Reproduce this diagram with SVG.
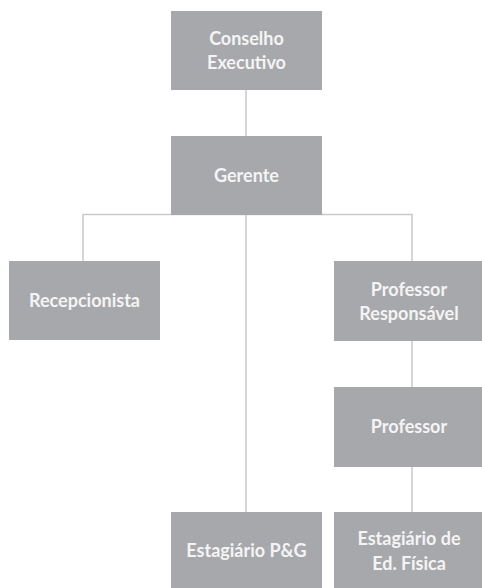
<svg xmlns="http://www.w3.org/2000/svg" width="482" height="588" viewBox="0 0 482 588">
<style>
.box{fill:#a7a8ab}
.lbl{fill:#f4f4f4;font-family:Lato,"Open Sans","Liberation Sans",sans-serif;font-weight:bold;font-size:18px;text-anchor:middle}
.ln{stroke:#c9c9c9;stroke-width:1.5;fill:none}
</style>
<rect width="482" height="588" fill="#ffffff"/>
<g id="connectors">
<path class="ln" d="M246,90 V136"/>
<path class="ln" d="M83,261 V214.5 H412 V261"/>
<path class="ln" d="M246,215 V512"/>
<path class="ln" d="M412,341 V387"/>
<path class="ln" d="M412,467 V512"/>
</g>
<g id="conselho">
<rect class="box" x="171" y="11" width="151" height="79"/>
<text class="lbl" x="246.5" y="45">Conselho</text>
<text class="lbl" x="246.5" y="69">Executivo</text>
</g>
<g id="gerente">
<rect class="box" x="171" y="136" width="151" height="79"/>
<text class="lbl" x="246.5" y="182">Gerente</text>
</g>
<g id="recepcionista">
<rect class="box" x="9" y="261" width="151" height="79"/>
<text class="lbl" x="84.5" y="307">Recepcionista</text>
</g>
<g id="professor-responsavel">
<rect class="box" x="334" y="261" width="148" height="80"/>
<text class="lbl" x="409" y="296">Professor</text>
<text class="lbl" x="409" y="320">Responsável</text>
</g>
<g id="professor">
<rect class="box" x="334" y="387" width="148" height="80"/>
<text class="lbl" x="409" y="433">Professor</text>
</g>
<g id="estagiario-pg">
<rect class="box" x="171" y="512" width="151" height="76"/>
<text class="lbl" x="246.5" y="557">Estagiário P&amp;G</text>
</g>
<g id="estagiario-ed">
<rect class="box" x="334" y="512" width="148" height="76"/>
<text class="lbl" x="409" y="545">Estagiário de</text>
<text class="lbl" x="409" y="570">Ed. Física</text>
</g>
</svg>
